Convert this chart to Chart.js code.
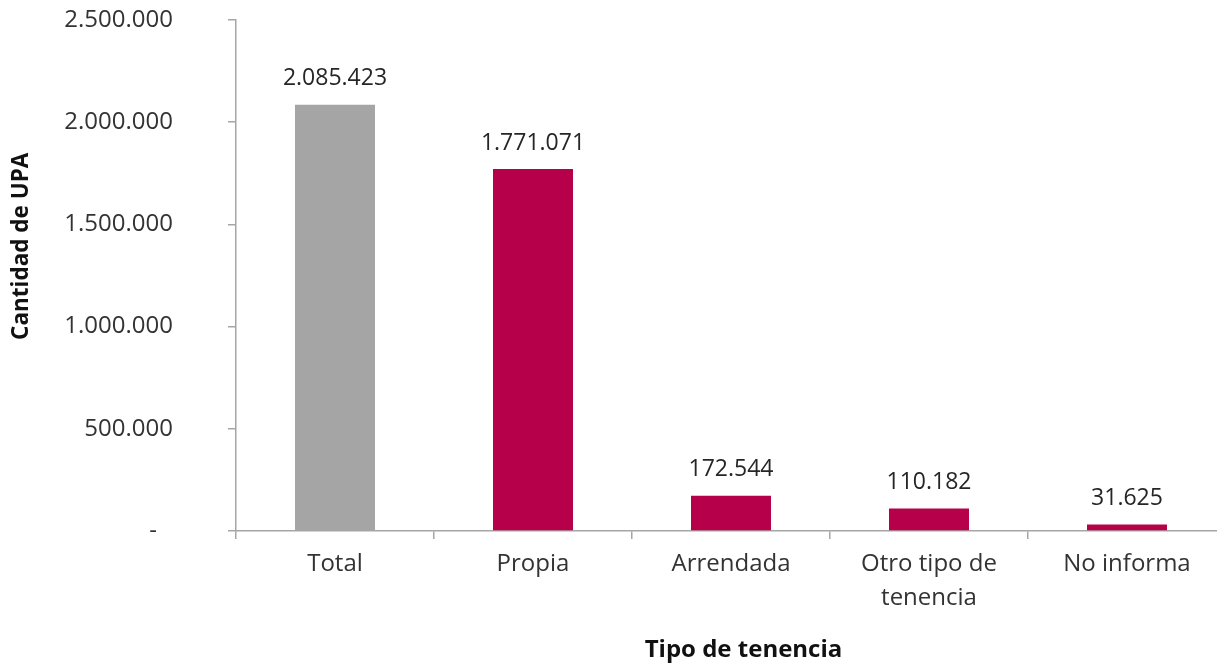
<!DOCTYPE html>
<html>
<head>
<meta charset="utf-8">
<script src="https://cdn.jsdelivr.net/npm/chart.js@4"></script>
<style>
  html, body { margin: 0; padding: 0; background: #fff; overflow: hidden; }
  #wrap { width: 1226px; height: 663px; position: relative; }
</style>
</head>
<body>
<div id="wrap"><canvas id="upaChart"></canvas></div>
<script>
const categories = ['Total', 'Propia', 'Arrendada', ['Otro tipo de', 'tenencia'], 'No informa'];
const upaValues = [2085423, 1771071, 172544, 110182, 31625];
const barColors = ['#a5a5a5', '#b6004a', '#b6004a', '#b6004a', '#b6004a'];
const yTicks = [0, 500000, 1000000, 1500000, 2000000, 2500000];

const FONT = "'Open Sans', 'Noto Sans', sans-serif";
const AXIS_GRAY = '#a6a6a6';

// thousands with dots, zero shown as a dash (accounting style, dash sits a bit left)
function fmt(v) {
  if (v === 0) return '-\u2002\u2009';
  return String(Math.round(v)).replace(/\B(?=(\d{3})+(?!\d))/g, '.');
}

// value labels above each bar
const barLabels = {
  id: 'barLabels',
  afterDatasetsDraw(chart) {
    const ctx = chart.ctx;
    const meta = chart.getDatasetMeta(0);
    ctx.save();
    ctx.font = '23px ' + FONT;
    ctx.fillStyle = '#262626';
    ctx.textAlign = 'center';
    ctx.textBaseline = 'middle';
    meta.data.forEach((bar, i) => {
      ctx.fillText(fmt(upaValues[i]), bar.x, bar.y - 26);
    });
    ctx.restore();
  }
};

const ctx = document.getElementById('upaChart').getContext('2d');
new Chart(ctx, {
  type: 'bar',
  data: {
    labels: categories,
    datasets: [{
      data: upaValues,
      backgroundColor: barColors,
      borderWidth: 0,
      categoryPercentage: 1,
      barPercentage: 0.404
    }]
  },
  options: {
    responsive: true,
    maintainAspectRatio: false,
    animation: false,
    layout: { padding: { top: 20, left: 0, right: 0, bottom: 0 } },
    plugins: {
      legend: { display: false },
      tooltip: { enabled: false }
    },
    scales: {
      x: {
        offset: true,
        border: { color: AXIS_GRAY, width: 1.5 },
        grid: {
          offset: true,
          drawOnChartArea: false,
          drawTicks: true,
          tickLength: 8,
          color: AXIS_GRAY,
          lineWidth: 1.5
        },
        ticks: {
          color: '#333',
          padding: 9,
          maxRotation: 0,
          autoSkip: false,
          font: { family: FONT, size: 24, lineHeight: 1.38 }
        },
        title: {
          display: true,
          // leading spaces nudge the title right, as in the original
          text: '    Tipo de tenencia',
          color: '#111',
          padding: { top: 0, bottom: 0 },
          font: { family: FONT, size: 24, weight: 'bold', lineHeight: 1.1 }
        },
        afterFit(scale) { scale.height = 132; }
      },
      y: {
        min: 0,
        max: 2500000,
        border: { color: AXIS_GRAY, width: 1.5 },
        grid: {
          drawOnChartArea: false,
          drawTicks: true,
          tickLength: 8,
          color: AXIS_GRAY,
          lineWidth: 1.5
        },
        afterBuildTicks(scale) {
          scale.ticks = yTicks.map(v => ({ value: v }));
        },
        ticks: {
          color: '#333',
          padding: 55,
          font: { family: FONT, size: 24 },
          callback: v => fmt(v)
        },
        title: {
          display: true,
          // leading spaces lift the rotated title a little
          text: '          Cantidad de UPA',
          color: '#111',
          padding: { top: 8, bottom: 0 },
          font: { family: FONT, size: 22.5, weight: 'bold', lineHeight: 1.2 }
        },
        afterFit(scale) {
          scale.width = 236;
          // the big label gap should not push the plot down
          scale.paddingTop = 14;
          scale.paddingBottom = 14;
        }
      }
    }
  },
  plugins: [barLabels]
});
</script>
</body>
</html>
